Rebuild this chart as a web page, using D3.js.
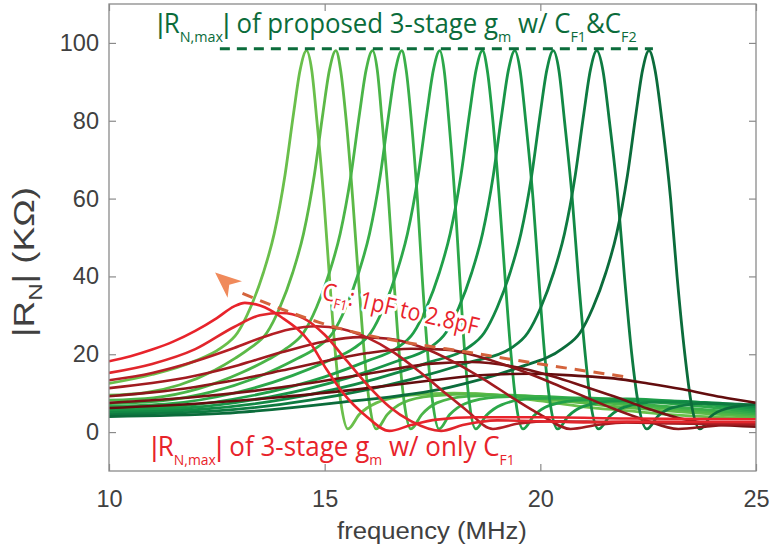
<!DOCTYPE html>
<html><head><meta charset="utf-8">
<script src="https://cdn.jsdelivr.net/npm/d3@7"></script>
<style>body{margin:0;background:#fff}</style>
</head><body>
<script>
// ---------- data ----------
const xTicks = [10, 15, 20, 25];
const yTicks = [0, 20, 40, 60, 80, 100];

// |R_N| (kOhm) vs frequency (MHz) — proposed 3-stage gm w/ CF1 & CF2
const G1 = [[10,12.5],[11,14.8],[12,18.3],[12.58,21.5],[12.98,25.5],[13.28,32],[13.58,41],[13.83,51],[14.08,66],[14.28,82],[14.43,93],[14.58,98],[14.70,93],[14.82,80],[14.98,60],[15.11,40],[15.25,20],[15.37,8],[15.54,0.8],[15.8,4.5],[16.2,7.5],[17,9.5],[18,10],[19,9.5],[20,8],[21,6.5],[22,5.5],[23,4.5],[25,3.5]];
const G2 = [[10,9.5],[10.82,10.1],[11.63,12.1],[12.45,15.9],[12.93,19],[13.26,21.5],[13.66,25.5],[13.96,32],[14.26,41],[14.51,51],[14.76,66],[14.96,82],[15.11,93],[15.26,98],[15.37,93],[15.50,80],[15.65,60],[15.78,40],[15.92,20],[16.03,8],[16.2,0.8],[16.45,4.5],[16.8,7.5],[17.5,9.3],[18.5,9.8],[19.5,9],[20.5,8],[22,6.3],[23.5,5],[25,3.9]];
const G3 = [[10,8.2],[11.03,8.8],[12.06,11.1],[13.08,15.3],[13.7,18.7],[14.11,21.5],[14.51,25.5],[14.81,32],[15.11,41],[15.36,51],[15.61,66],[15.81,82],[15.96,93],[16.11,98],[16.22,93],[16.33,80],[16.48,60],[16.60,40],[16.73,20],[16.84,8],[17.0,0.8],[17.25,4.5],[17.6,7.5],[18.3,9.2],[19.3,9.5],[20.5,8.5],[22,7],[23.5,5.5],[25,4.3]];
const G4 = [[10,7.3],[11.2,8.0],[12.4,10.4],[13.59,14.8],[14.31,18.6],[14.79,21.5],[15.19,25.5],[15.49,32],[15.79,41],[16.04,51],[16.29,66],[16.49,82],[16.64,93],[16.79,98],[16.89,93],[17.01,80],[17.15,60],[17.26,40],[17.39,20],[17.50,8],[17.65,0.8],[17.9,4.5],[18.25,7.3],[19,9],[20,9.2],[21,8.5],[22.5,7],[25,4.7]];
const G5 = [[10,6.6],[11.42,7.3],[12.84,9.85],[14.25,14.5],[15.1,18.4],[15.67,21.5],[16.07,25.5],[16.37,32],[16.67,41],[16.92,51],[17.17,66],[17.37,82],[17.52,93],[17.67,98],[17.77,93],[17.88,80],[18.02,60],[18.13,40],[18.25,20],[18.35,8],[18.5,0.8],[18.75,4.3],[19.1,7],[19.8,8.6],[21,8.8],[22.5,7.8],[25,5.1]];
const G6 = [[10,6.0],[11.67,6.7],[13.33,9.4],[15.0,14.2],[15.99,18.3],[16.66,21.5],[17.06,25.5],[17.36,32],[17.66,41],[17.91,51],[18.16,66],[18.36,82],[18.51,93],[18.66,98],[18.77,93],[18.90,80],[19.05,60],[19.18,40],[19.32,20],[19.43,8],[19.6,0.8],[19.85,4.2],[20.2,6.8],[21,8.3],[22,8.5],[23.5,7.5],[25,5.5]];
const G7 = [[10,5.5],[11.85,6.25],[13.71,9.0],[15.56,14.0],[16.67,18.2],[17.41,21.5],[17.81,25.5],[18.11,32],[18.41,41],[18.66,51],[18.91,66],[19.11,82],[19.26,93],[19.41,98],[19.53,93],[19.66,80],[19.83,60],[19.96,40],[20.10,20],[20.22,8],[20.4,0.8],[20.65,4.1],[21,6.6],[21.8,8],[23,8],[25,6]];
const G8 = [[10,5.0],[12.08,5.8],[14.15,8.6],[16.23,13.8],[17.47,18.1],[18.3,21.5],[18.7,25.5],[19.0,32],[19.3,41],[19.55,51],[19.8,66],[20.0,82],[20.15,93],[20.3,98],[20.43,93],[20.56,80],[20.74,60],[20.88,40],[21.04,20],[21.16,8],[21.35,0.8],[21.6,4],[21.95,6.4],[22.7,7.7],[23.8,7.6],[25,6.5]];
const G9 = [[10,4.5],[12.33,5.3],[14.66,8.2],[16.98,13.5],[18.38,18.0],[19.31,21.5],[19.71,25.5],[20.01,32],[20.31,41],[20.56,51],[20.81,66],[21.01,82],[21.16,93],[21.31,98],[21.45,93],[21.60,80],[21.80,60],[21.95,40],[22.12,20],[22.26,8],[22.47,0.8],[22.72,4],[23.05,6.2],[23.8,7.4],[25,7]];
const G10 = [[10,4.0],[12.63,4.8],[15.26,7.5],[17.89,11.5],[19.47,16.5],[20.52,21.5],[20.92,25.5],[21.22,32],[21.52,41],[21.77,51],[22.02,66],[22.22,82],[22.37,93],[22.52,98],[22.66,93],[22.82,80],[23.02,60],[23.17,40],[23.35,20],[23.49,8],[23.7,0.8],[23.95,4],[24.3,6],[25,7.2]];

// 3-stage gm w/ only CF1 (1pF .. 2.8pF)
const R1 = [[10,18.2],[10.5,19.5],[11,21.2],[11.5,23.3],[12,26],[12.5,29.3],[12.9,32.3],[13.15,33.2],[13.5,32.5],[14,29.5],[14.66,23],[15.05,16],[15.43,10],[15.97,4],[16.5,0.3],[17,1.8],[17.6,3.2],[18.5,3.8],[20,3.8],[22,3.5],[25,3.3]];
const R2 = [[10,15.2],[11,17.5],[12,21.3],[12.9,27],[13.5,30],[14.0,30.6],[14.5,29.3],[15,25],[15.5,18.5],[16,12],[16.5,6.5],[17,2.8],[17.7,0.3],[18.2,1.8],[19,3],[20,2.8],[21,2.5],[22,2.7],[25,2.6]];
const R3 = [[10,13.3],[11,15.2],[12,18.2],[12.9,21.6],[13.6,24.5],[14.2,26.4],[14.8,27.2],[15.4,26.5],[16,24.2],[16.6,20.5],[17.2,15.5],[17.8,10],[18.3,5.5],[18.9,0.8],[19.5,2.2],[20.3,2.8],[21.5,2.6],[23,2.4],[25,2.3]];
const R4 = [[10,11.3],[11,12.6],[12,14.5],[13,17.2],[14,20.5],[15,23.3],[15.8,24.4],[16.5,24],[17.2,22],[18,18],[18.7,13.5],[19.4,8.5],[20,4.5],[20.7,0.8],[21.3,1.8],[22,2.5],[23,2.2],[25,2.0]];
const R5 = [[10,9.2],[11,10.2],[12,11.6],[13,13.5],[14,15.8],[15,18.2],[16,20.3],[17,21.4],[17.8,21.2],[18.7,19],[19.5,16],[20.3,12.5],[21,9.2],[21.7,6],[22.4,3.2],[23.2,0.8],[24,1.6],[25,2]];
const R6 = [[10,7.5],[12,9],[14,11.5],[16,15],[17.5,17.6],[18.4,18],[19.3,17],[20.3,14.3],[21,11.8],[21.7,9.2],[22.5,6],[23.2,3.6],[24,2],[25,1.4]];
const R7 = [[10,6.2],[12,7.3],[14,9],[16,11.3],[17.5,13.3],[18.6,14.6],[19.8,15],[20.8,14.5],[21.7,13.8],[22.5,12.5],[23.3,11],[24.2,9],[25,7.5]];

const greenSeries = [G1, G2, G3, G4, G5, G6, G7, G8, G9, G10];
const greenColors = ["#6abf4b","#5cb947","#4bb548","#3aaf49","#2ca84a","#20a049","#189548","#128945","#0e7b41","#0b6c3b"];
const redSeries = [R7, R6, R5, R4, R3, R2, R1];
const redColors = ["#630d0e","#771214","#8c171a","#a11b20","#b51f25","#e1262c","#e8232b"];

const maxLine = [[12.57, 98.5], [22.61, 98.5]];
const arrowLine = [[21.92, 14.3], [18.83, 19.6], [14.87, 28.2], [12.95, 36.3]];
const arrowTip = [12.46, 41];

// ---------- drawing ----------
const W = 772, H = 554;
const L = 109, R = 756, T = 4, B = 471;
const x = d3.scaleLinear().domain([10, 25]).range([L, R]);
const y = d3.scaleLinear().domain([-10, 110]).range([B, T]);

const svg = d3.select("body").append("svg").attr("width", W).attr("height", H)
  .style("font-family", "'Liberation Sans', Arial, sans-serif");

svg.append("defs").append("clipPath").attr("id", "clip")
  .append("rect").attr("x", L).attr("y", T).attr("width", R - L).attr("height", B - T);

const axisColor = "#8a8a8a", labelColor = "#404040";
function styleAxis(g, showLabels) {
  g.select(".domain").remove();
  g.selectAll(".tick line").attr("stroke", axisColor).attr("stroke-width", 1.2);
  g.selectAll(".tick text").attr("fill", labelColor).style("font-size", "23.5px")
    .style("font-family", "'Liberation Sans', Arial, sans-serif");
  if (!showLabels) g.selectAll(".tick text").remove();
}
svg.append("g").attr("transform", `translate(0,${B})`)
  .call(d3.axisBottom(x).tickValues(xTicks).tickSize(-7).tickPadding(19).tickFormat(d3.format("d")))
  .call(g => styleAxis(g, true));
svg.append("g").attr("transform", `translate(0,${T})`)
  .call(d3.axisTop(x).tickValues(xTicks).tickSize(-7))
  .call(g => styleAxis(g, false));
svg.append("g").attr("transform", `translate(${L},0)`)
  .call(d3.axisLeft(y).tickValues(yTicks).tickSize(-7).tickPadding(10).tickFormat(d3.format("d")))
  .call(g => styleAxis(g, true));
svg.append("g").attr("transform", `translate(${R},0)`)
  .call(d3.axisRight(y).tickValues(yTicks).tickSize(-7))
  .call(g => styleAxis(g, false));

const line = d3.line().x(d => x(d[0])).y(d => y(d[1])).curve(d3.curveMonotoneX);
const plot = svg.append("g").attr("clip-path", "url(#clip)");

plot.selectAll("path.g").data(greenSeries).join("path").attr("class", "g")
  .attr("d", line).attr("fill", "none")
  .attr("stroke", (d, i) => greenColors[i]).attr("stroke-width", 2.8)
  .attr("stroke-linejoin", "round");
plot.selectAll("path.r").data(redSeries).join("path").attr("class", "r")
  .attr("d", line).attr("fill", "none")
  .attr("stroke", (d, i) => redColors[i]).attr("stroke-width", 2.6)
  .attr("stroke-linejoin", "round");

// dashed max line
svg.append("path").attr("d", d3.line().x(d => x(d[0])).y(d => y(d[1]))(maxLine))
  .attr("stroke", "#0b6c3b").attr("stroke-width", 3).attr("stroke-dasharray", "10,7").attr("fill", "none");

// arrow
svg.append("path").attr("d", d3.line().x(d => x(d[0])).y(d => y(d[1])).curve(d3.curveMonotoneX)(arrowLine))
  .attr("stroke", "#d4633c").attr("stroke-width", 3).attr("stroke-dasharray", "11,8").attr("fill", "none");
{
  const bx = x(arrowLine[arrowLine.length - 1][0]), by = y(arrowLine[arrowLine.length - 1][1]);
  const tx = x(arrowTip[0]), ty = y(arrowTip[1]);
  const dx = tx - bx, dy = ty - by, len = Math.hypot(dx, dy);
  const ux = dx / len, uy = dy / len, px = -uy, py = ux;
  const hl = 26, hw = 11;
  const baseX = tx - ux * hl, baseY = ty - uy * hl;
  const notchX = tx - ux * hl * 0.72, notchY = ty - uy * hl * 0.72;
  svg.append("path")
    .attr("d", `M${tx},${ty}L${baseX + px * hw},${baseY + py * hw}L${notchX},${notchY}L${baseX - px * hw},${baseY - py * hw}Z`)
    .attr("fill", "#f08a5b");
}

// rich text helper
const barFont = "'Liberation Sans', Arial, sans-serif";
function richText(parent, segs, size, subSize, shift, color, font) {
  const t = parent.append("text").attr("fill", color).style("font-size", size + "px")
    .style("font-family", font);
  let down = false;
  segs.forEach(s => {
    const sp = t.append("tspan").text(s.t);
    if (s.bar) sp.style("font-family", barFont);
    if (s.sub) { sp.style("font-size", subSize + "px"); if (!down) { sp.attr("dy", shift); down = true; } }
    else { sp.style("font-size", size + "px"); if (down) { sp.attr("dy", -shift); down = false; } }
  });
  return t;
}
function fitted(segs, o) {
  const g = svg.append("g");
  const t = richText(g, segs, o.size, o.subSize, o.shift, o.color, o.font);
  if (o.halo) t.attr("stroke", "#fff").attr("stroke-width", o.halo).attr("paint-order", "stroke").attr("stroke-linejoin", "round");
  const bb = t.node().getBBox();
  const sx = o.width ? o.width / bb.width : 1;
  t.attr("x", -bb.x);
  let tr = `translate(${o.x},${o.y})`;
  if (o.rotate) tr += ` rotate(${o.rotate})`;
  tr += ` scale(${sx},1)`;
  if (o.center) tr += ` translate(${-bb.width / 2},0)`;
  g.attr("transform", tr);
  return g;
}
const annFont = "'Open Sans', 'Noto Sans', sans-serif";

fitted([{t:"|",bar:true},{t:"R"},{t:"N,max",sub:true},{t:"|",bar:true},{t:" of proposed 3-stage g"},{t:"m",sub:true},{t:" w/ C"},{t:"F1",sub:true},{t:"&C"},{t:"F2",sub:true}],
  {x:157, y:33, width:480, size:27, subSize:15, shift:9, color:"#0b6c3b", font:annFont});
fitted([{t:"|",bar:true},{t:"R"},{t:"N,max",sub:true},{t:"|",bar:true},{t:" of 3-stage g"},{t:"m",sub:true},{t:" w/ only C"},{t:"F1",sub:true}],
  {x:151, y:456, width:364, size:28, subSize:15, shift:9, color:"#e8232b", font:annFont});
fitted([{t:"C"},{t:"F1",sub:true},{t:": 1pF to 2.8pF"}],
  {x:321, y:299, width:160, size:24, subSize:14, shift:6, color:"#e8232b", font:annFont, rotate:13, halo:6});

// axis labels
fitted([{t:"frequency (MHz)"}], {x:432, y:539, width:190, size:24, subSize:16, shift:0, color:labelColor,
  font:"'Liberation Sans', Arial, sans-serif", center:true});
fitted([{t:"|R"},{t:"N",sub:true},{t:"| (K\u03A9)"}], {x:34, y:262, width:150, size:29, subSize:19, shift:8, color:labelColor,
  font:"'Liberation Sans', Arial, sans-serif", center:true, rotate:-90});

// frame
svg.append("rect").attr("x", L).attr("y", T).attr("width", R - L).attr("height", B - T)
  .attr("fill", "none").attr("stroke", axisColor).attr("stroke-width", 1.3);
</script>
</body></html>
